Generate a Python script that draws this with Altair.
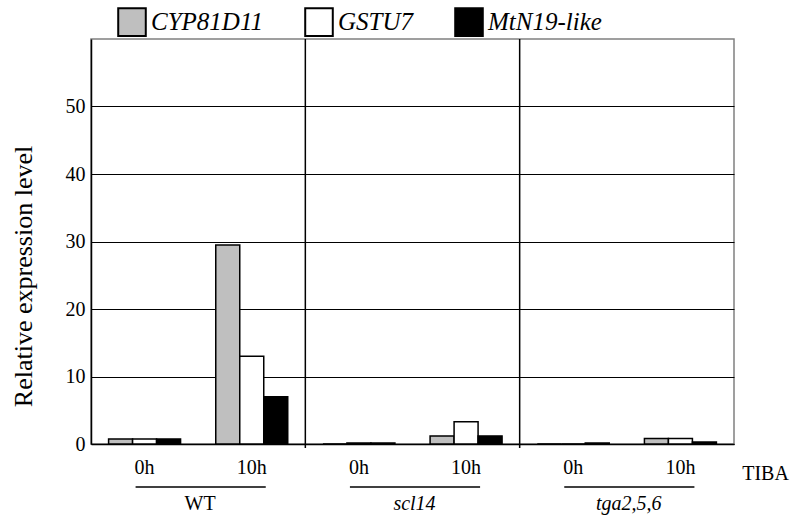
import altair as alt
import pandas as pd

# Expression levels per condition (genotype x TIBA treatment time)
genotypes = ["WT", "scl14", "tga2,5,6"]
timepoints = ["0h", "10h"]
genes = ["CYP81D11", "GSTU7", "MtN19-like"]
gene_colors = ["#bfbfbf", "#ffffff", "#000000"]

cyp81d11 = [0.75, 29.5, 0.0, 1.2, 0.0, 0.8]
gstu7 = [0.75, 13.0, 0.15, 3.3, 0.0, 0.8]
mtn19_like = [0.75, 7.0, 0.15, 1.2, 0.15, 0.3]

FONT = "'Liberation Serif', 'Times New Roman', Times, serif"
W, H = 643, 405

cond_keys = [f"{g}|{t}" for g in genotypes for t in timepoints]

rows = []
for gene, values in zip(genes, [cyp81d11, gstu7, mtn19_like]):
    for key, v in zip(cond_keys, values):
        rows.append({"cond": key, "gene": gene, "value": v})
bars_df = pd.DataFrame(rows)

groups_df = pd.DataFrame({
    "genotype": genotypes,
    "first": [f"{g}|{timepoints[0]}" for g in genotypes],
    "last": [f"{g}|{timepoints[-1]}" for g in genotypes],
    "upright": [g == "WT" for g in genotypes],
})


def x_enc(field, **kw):
    return alt.X(
        f"{field}:N",
        sort=cond_keys,
        scale=alt.Scale(domain=cond_keys, paddingInner=0, paddingOuter=0),
        title="TIBA",
        axis=alt.Axis(
            labelExpr="split(datum.label, '|')[1]",
            labelAngle=0,
            labelFont=FONT,
            labelFontSize=20,
            labelColor="black",
            labelPadding=13,
            ticks=False,
            tickSize=0,
            grid=False,
            domainColor="black",
            domainWidth=1.5,
            titleFont=FONT,
            titleFontSize=20,
            titleFontWeight="normal",
            titleColor="black",
            titleX=674,
            titleY=35,
            titleAlign="center",
            titleBaseline="alphabetic",
        ),
        **kw,
    )


bars = alt.Chart(bars_df).mark_bar(stroke="black", strokeWidth=1.5).encode(
    x=x_enc("cond"),
    xOffset=alt.XOffset(
        "gene:N",
        sort=genes,
        scale=alt.Scale(domain=genes, paddingInner=0, paddingOuter=0.733),
    ),
    y=alt.Y(
        "value:Q",
        scale=alt.Scale(domain=[0, 60], nice=False),
        axis=alt.Axis(
            values=[0, 10, 20, 30, 40, 50],
            grid=True,
            gridColor="black",
            gridWidth=1,
            gridOpacity=1,
            ticks=False,
            tickSize=0,
            labelFont=FONT,
            labelFontSize=20,
            labelColor="black",
            labelPadding=6,
            domainColor="black",
            domainWidth=1.5,
            title="Relative expression level",
            titleFont=FONT,
            titleFontSize=26,
            titleFontWeight="normal",
            titleColor="black",
            titleX=-60,
            titleY=237,
            titleAngle=-90,
            titleAlign="center",
            titleBaseline="alphabetic",
        ),
    ),
    color=alt.Color(
        "gene:N",
        sort=genes,
        scale=alt.Scale(domain=genes, range=gene_colors),
        legend=alt.Legend(
            title=None,
            orient="none",
            legendX=26,
            legendY=-32,
            direction="horizontal",
            symbolType="square",
            symbolSize=760,
            symbolStrokeColor="black",
            symbolStrokeWidth=2,
            symbolOpacity=1,
            labelFont=FONT,
            labelFontStyle="italic",
            labelFontSize=25,
            labelColor="black",
            labelOffset=4,
            columnPadding=37,
            padding=0,
        ),
    ),
)

# vertical separators between genotypes
dividers = alt.Chart(groups_df.iloc[1:]).mark_rule(
    color="black", strokeWidth=1.5
).encode(
    x=x_enc("first", bandPosition=0),
    y=alt.value(0),
    y2=alt.value(H + 4),
)

# underline spanning each genotype's time points
underlines = alt.Chart(groups_df).mark_rule(
    color="black", strokeWidth=1.5, xOffset=-9, x2Offset=14
).encode(
    x=x_enc("first"),
    x2=alt.X2("last:N"),
    y=alt.value(H + 43),
)

geno_upright = alt.Chart(groups_df).transform_filter(
    "datum.upright"
).mark_text(
    font=FONT, fontSize=20, color="black", baseline="alphabetic", dx=2
).encode(
    x=x_enc("last", bandPosition=0),
    y=alt.value(H + 66),
    text="genotype:N",
)

geno_italic = alt.Chart(groups_df).transform_filter(
    "!datum.upright"
).mark_text(
    font=FONT, fontSize=20, fontStyle="italic", color="black",
    baseline="alphabetic", dx=2
).encode(
    x=x_enc("last", bandPosition=0),
    y=alt.value(H + 66),
    text="genotype:N",
)

chart = alt.layer(
    bars, dividers, underlines, geno_upright, geno_italic
).properties(
    width=W,
    height=H,
    autosize=alt.AutoSizeParams(type="none"),
    padding={"left": 91, "top": 39, "right": 792 - 91 - W, "bottom": 517 - 39 - H},
    background="white",
).configure_view(
    stroke="#808080",
    strokeWidth=1.5,
)

chart.save("out.html", embed_options={"renderer": "svg", "actions": False})
